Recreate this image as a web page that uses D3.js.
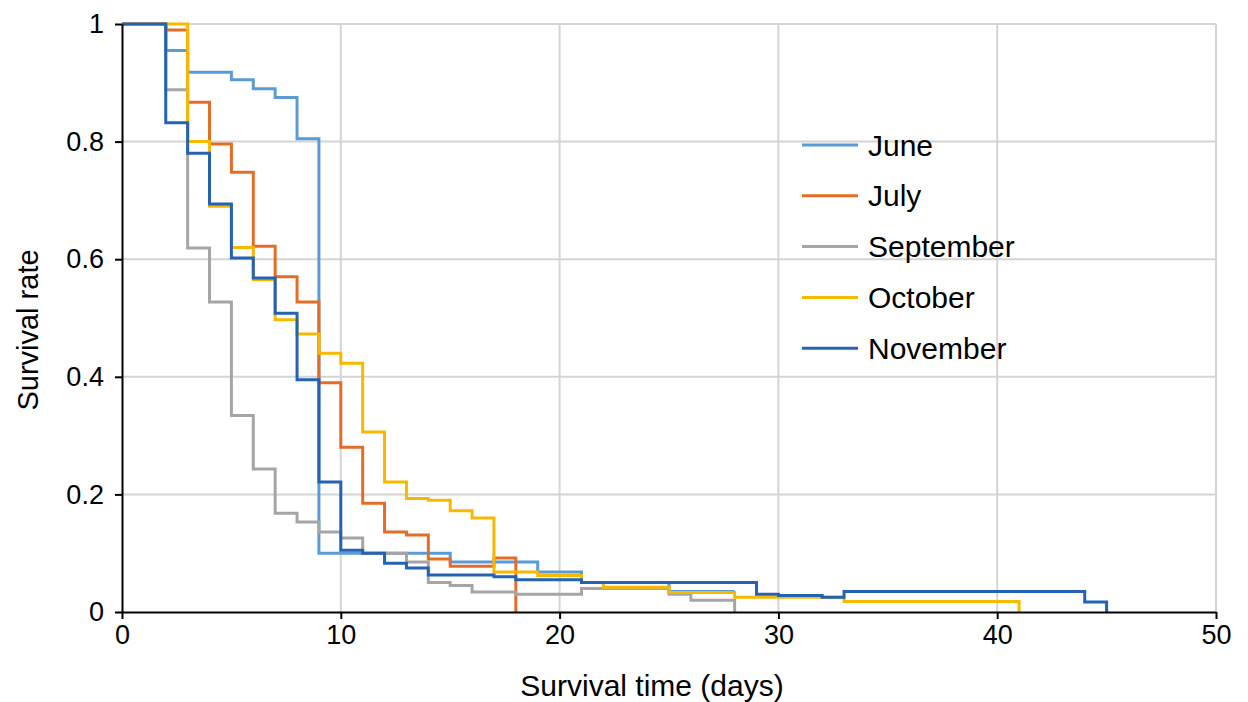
<!DOCTYPE html>
<html><head><meta charset="utf-8">
<script src="https://cdn.jsdelivr.net/npm/d3@7"></script>
<style>body{margin:0;background:#fff}text{font-family:"Liberation Sans",Arial,sans-serif}</style>
</head><body>
<script>
const width = 1248, height = 702;
const margin = {left: 122, right: 32, top: 24, bottom: 90};

// [day, survival rate] steps
const june = [[0,1],[2,0.955],[3,0.918],[5,0.905],[6,0.89],[7,0.875],[8,0.805],[9,0.10],[15,0.085],[19,0.068],[21,0.05],[25,0.035],[28,0.035]];
const july = [[0,1],[2,0.99],[3,0.867],[4,0.796],[5,0.748],[6,0.622],[7,0.57],[8,0.527],[9,0.39],[10,0.28],[11,0.185],[12,0.136],[13,0.131],[14,0.09],[15,0.078],[17,0.092],[18,0]];
const september = [[0,1],[2,0.888],[3,0.619],[4,0.527],[5,0.334],[6,0.243],[7,0.168],[8,0.153],[9,0.136],[10,0.126],[11,0.1],[13,0.085],[14,0.05],[15,0.045],[16,0.034],[18,0.03],[21,0.04],[25,0.03],[26,0.02],[28,0]];
const october = [[0,1],[3,0.8],[4,0.69],[5,0.62],[6,0.565],[7,0.497],[8,0.473],[9,0.44],[10,0.423],[11,0.306],[12,0.221],[13,0.193],[14,0.19],[15,0.172],[16,0.16],[17,0.068],[19,0.062],[21,0.05],[22,0.042],[25,0.033],[28,0.025],[33,0.018],[41,0]];
const november = [[0,1],[2,0.832],[3,0.78],[4,0.694],[5,0.602],[6,0.568],[7,0.508],[8,0.395],[9,0.221],[10,0.105],[11,0.1],[12,0.083],[13,0.075],[14,0.063],[17,0.06],[18,0.055],[21,0.05],[29,0.03],[30,0.028],[32,0.025],[33,0.035],[44,0.017],[45,0]];

const seriesNames = ["June","July","September","October","November"];
const seriesData = [june, july, september, october, november];
const colors = ["#5B9BD5","#E36C26","#A5A5A5","#F7B800","#2462B3"];
const xTicks = [0,10,20,30,40,50];
const yTicks = [0,0.2,0.4,0.6,0.8,1];

const svg = d3.select("body").append("svg").attr("width", width).attr("height", height);
const x = d3.scaleLinear().domain([0,50]).range([margin.left, width - margin.right]);
const y = d3.scaleLinear().domain([0,1]).range([height - margin.bottom, margin.top]);

// grid
svg.append("g").selectAll("line").data(xTicks.slice(1)).enter().append("line")
    .attr("x1", d => x(d)).attr("x2", d => x(d)).attr("y1", y(0)).attr("y2", y(1))
    .style("stroke", "#d4d4d4").style("stroke-width", 2);
svg.append("g").selectAll("line").data(yTicks.slice(1)).enter().append("line")
    .attr("x1", x(0)).attr("x2", x(50)).attr("y1", d => y(d)).attr("y2", d => y(d))
    .style("stroke", "#d4d4d4").style("stroke-width", 2);

const line = d3.line().x(d => x(d[0])).y(d => y(d[1])).curve(d3.curveStepAfter);
svg.append("g").selectAll("path").data(seriesData).enter().append("path")
    .attr("d", line).style("fill", "none")
    .style("stroke", (d, i) => colors[i]).style("stroke-width", 3);

const xAxis = svg.append("g").attr("transform", `translate(0,${y(0)})`)
    .call(d3.axisBottom(x).tickValues(xTicks).tickSize(7).tickSizeOuter(0));
const yAxis = svg.append("g").attr("transform", `translate(${x(0)},0)`)
    .call(d3.axisLeft(y).tickValues(yTicks).tickFormat(d => d === 0 || d === 1 ? d : d3.format(".1f")(d)).tickSize(7).tickSizeOuter(0));
[xAxis, yAxis].forEach(a => {
    a.selectAll("path,line").style("stroke", "#000").style("stroke-width", 2);
    a.selectAll("text").style("font-size", "27px").style("fill", "#000")
        .style("font-family", '"Liberation Sans",Arial,sans-serif');
});
xAxis.selectAll("text").attr("dy", "0.8em");
yAxis.selectAll("text").attr("dx", "-0.3em");

svg.append("text").attr("x", 652).attr("y", 696).attr("text-anchor", "middle")
    .style("font-size", "30px").text("Survival time (days)");
svg.append("text").attr("transform", `translate(38,${y(0.5) + 12}) rotate(-90)`).attr("text-anchor", "middle")
    .style("font-size", "29px").text("Survival rate");

const legend = svg.append("g").selectAll("g").data(seriesNames).enter().append("g")
    .attr("transform", (d, i) => `translate(802,${145 + i * 50.8})`);
legend.append("line").attr("x1", 0).attr("x2", 56)
    .style("stroke", (d, i) => colors[i]).style("stroke-width", 3);
legend.append("text").attr("x", 66).attr("dy", "0.35em").style("font-size", "30px").text(d => d);
</script>
</body></html>
